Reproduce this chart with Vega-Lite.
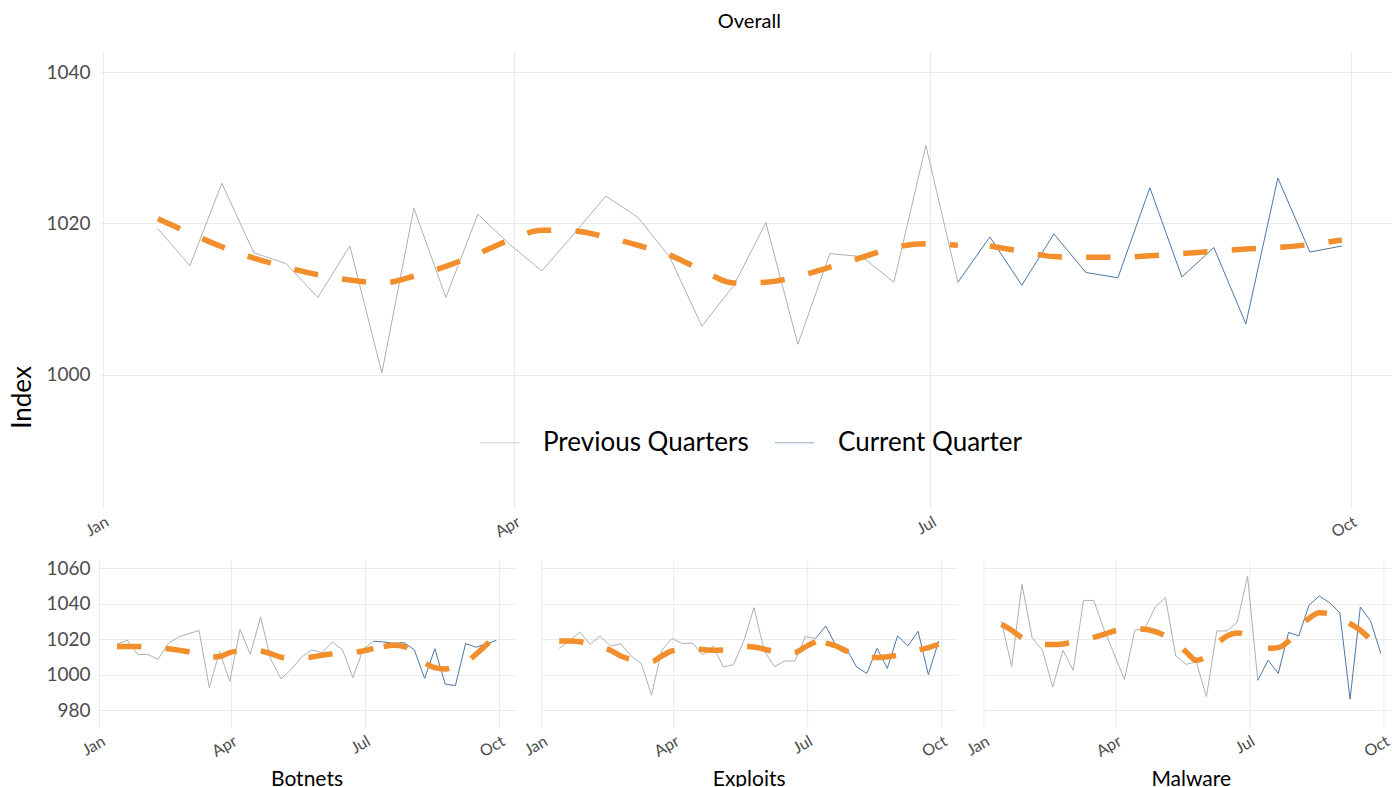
{
  "$schema": "https://vega.github.io/schema/vega-lite/v6.json",
  "padding": {"left": 9, "top": 12, "right": 0, "bottom": 0},
  "config": {
    "font": "Lato",
    "view": {"stroke": null},
    "axisX": {"grid": true, "gridColor": "#ebebeb", "domain": false, "ticks": false, "labelAngle": -30, "labelAlign": "right", "labelBaseline": "top", "labelPadding": 5, "labelFontSize": 16, "labelColor": "#4d4d4d", "labelFont": "Lato", "labelFlush": false, "labelOverlap": false, "labelExpr": "utcFormat(datum.value, '%b')"},
    "axisY": {"grid": true, "gridColor": "#ebebeb", "domain": false, "ticks": false, "labelFontSize": 19, "labelColor": "#4d4d4d", "labelFont": "Lato", "labelPadding": 9, "format": "d"},
    "title": {"font": "Lato", "fontWeight": "normal", "color": "#000000"}
  },
  "data": {"values": [
    {"p":"Overall","d":"2023-01-13","v":1019.3,"t":1020.6,"s":"Previous Quarters"},
    {"p":"Overall","d":"2023-01-20","v":1014.4,"t":1018.7,"s":"Previous Quarters"},
    {"p":"Overall","d":"2023-01-27","v":1025.3,"t":1016.9,"s":"Previous Quarters"},
    {"p":"Overall","d":"2023-02-03","v":1016.1,"t":1015.4,"s":"Previous Quarters"},
    {"p":"Overall","d":"2023-02-10","v":1014.7,"t":1014.2,"s":"Previous Quarters"},
    {"p":"Overall","d":"2023-02-17","v":1010.2,"t":1013.2,"s":"Previous Quarters"},
    {"p":"Overall","d":"2023-02-24","v":1017.0,"t":1012.5,"s":"Previous Quarters"},
    {"p":"Overall","d":"2023-03-03","v":1000.2,"t":1012.1,"s":"Previous Quarters"},
    {"p":"Overall","d":"2023-03-10","v":1022.0,"t":1013.0,"s":"Previous Quarters"},
    {"p":"Overall","d":"2023-03-17","v":1010.2,"t":1014.3,"s":"Previous Quarters"},
    {"p":"Overall","d":"2023-03-24","v":1021.2,"t":1016.0,"s":"Previous Quarters"},
    {"p":"Overall","d":"2023-03-31","v":1017.2,"t":1017.8,"s":"Previous Quarters"},
    {"p":"Overall","d":"2023-04-07","v":1013.7,"t":1019.1,"s":"Previous Quarters"},
    {"p":"Overall","d":"2023-04-14","v":1018.6,"t":1019.0,"s":"Previous Quarters"},
    {"p":"Overall","d":"2023-04-21","v":1023.6,"t":1018.2,"s":"Previous Quarters"},
    {"p":"Overall","d":"2023-04-28","v":1020.8,"t":1017.1,"s":"Previous Quarters"},
    {"p":"Overall","d":"2023-05-05","v":1015.5,"t":1015.8,"s":"Previous Quarters"},
    {"p":"Overall","d":"2023-05-12","v":1006.4,"t":1013.8,"s":"Previous Quarters"},
    {"p":"Overall","d":"2023-05-19","v":1011.8,"t":1012.1,"s":"Previous Quarters"},
    {"p":"Overall","d":"2023-05-26","v":1020.1,"t":1012.2,"s":"Previous Quarters"},
    {"p":"Overall","d":"2023-06-02","v":1004.0,"t":1013.0,"s":"Previous Quarters"},
    {"p":"Overall","d":"2023-06-09","v":1016.0,"t":1014.2,"s":"Previous Quarters"},
    {"p":"Overall","d":"2023-06-16","v":1015.6,"t":1015.5,"s":"Previous Quarters"},
    {"p":"Overall","d":"2023-06-23","v":1012.2,"t":1016.8,"s":"Previous Quarters"},
    {"p":"Overall","d":"2023-06-30","v":1030.3,"t":1017.3,"s":"Previous Quarters"},
    {"p":"Overall","d":"2023-07-07","v":1012.2,"t":1017.1,"s":"Previous Quarters"},
    {"p":"Overall","d":"2023-07-07","v":1012.2,"s":"Current Quarter"},
    {"p":"Overall","d":"2023-07-14","v":1018.2,"t":1017.0,"s":"Current Quarter"},
    {"p":"Overall","d":"2023-07-21","v":1011.8,"t":1016.3,"s":"Current Quarter"},
    {"p":"Overall","d":"2023-07-28","v":1018.6,"t":1015.6,"s":"Current Quarter"},
    {"p":"Overall","d":"2023-08-04","v":1013.5,"t":1015.5,"s":"Current Quarter"},
    {"p":"Overall","d":"2023-08-11","v":1012.8,"t":1015.5,"s":"Current Quarter"},
    {"p":"Overall","d":"2023-08-18","v":1024.7,"t":1015.7,"s":"Current Quarter"},
    {"p":"Overall","d":"2023-08-25","v":1012.9,"t":1016.0,"s":"Current Quarter"},
    {"p":"Overall","d":"2023-09-01","v":1016.8,"t":1016.3,"s":"Current Quarter"},
    {"p":"Overall","d":"2023-09-08","v":1006.7,"t":1016.6,"s":"Current Quarter"},
    {"p":"Overall","d":"2023-09-15","v":1026.0,"t":1016.8,"s":"Current Quarter"},
    {"p":"Overall","d":"2023-09-22","v":1016.2,"t":1017.2,"s":"Current Quarter"},
    {"p":"Overall","d":"2023-09-29","v":1017.0,"t":1017.8,"s":"Current Quarter"},

    {"p":"Botnets","d":"2023-01-13","v":1017.2,"t":1015.9,"s":"Previous Quarters"},
    {"p":"Botnets","d":"2023-01-20","v":1019.6,"t":1015.9,"s":"Previous Quarters"},
    {"p":"Botnets","d":"2023-01-27","v":1011.5,"t":1015.9,"s":"Previous Quarters"},
    {"p":"Botnets","d":"2023-02-03","v":1011.5,"t":1015.5,"s":"Previous Quarters"},
    {"p":"Botnets","d":"2023-02-10","v":1008.7,"t":1015.1,"s":"Previous Quarters"},
    {"p":"Botnets","d":"2023-02-17","v":1017.6,"t":1014.7,"s":"Previous Quarters"},
    {"p":"Botnets","d":"2023-02-24","v":1021.3,"t":1013.9,"s":"Previous Quarters"},
    {"p":"Botnets","d":"2023-03-03","v":1023.2,"t":1012.9,"s":"Previous Quarters"},
    {"p":"Botnets","d":"2023-03-10","v":1024.9,"t":1011.2,"s":"Previous Quarters"},
    {"p":"Botnets","d":"2023-03-17","v":992.8,"t":1010.0,"s":"Previous Quarters"},
    {"p":"Botnets","d":"2023-03-24","v":1013.1,"t":1010.3,"s":"Previous Quarters"},
    {"p":"Botnets","d":"2023-03-31","v":996.2,"t":1012.5,"s":"Previous Quarters"},
    {"p":"Botnets","d":"2023-04-07","v":1025.6,"t":1013.6,"s":"Previous Quarters"},
    {"p":"Botnets","d":"2023-04-14","v":1011.5,"t":1013.9,"s":"Previous Quarters"},
    {"p":"Botnets","d":"2023-04-21","v":1032.6,"t":1013.4,"s":"Previous Quarters"},
    {"p":"Botnets","d":"2023-04-28","v":1008.7,"t":1011.9,"s":"Previous Quarters"},
    {"p":"Botnets","d":"2023-05-05","v":997.7,"t":1009.9,"s":"Previous Quarters"},
    {"p":"Botnets","d":"2023-05-12","v":1003.1,"t":1009.3,"s":"Previous Quarters"},
    {"p":"Botnets","d":"2023-05-19","v":1010.0,"t":1009.5,"s":"Previous Quarters"},
    {"p":"Botnets","d":"2023-05-26","v":1014.0,"t":1010.0,"s":"Previous Quarters"},
    {"p":"Botnets","d":"2023-06-02","v":1012.5,"t":1011.0,"s":"Previous Quarters"},
    {"p":"Botnets","d":"2023-06-09","v":1018.5,"t":1011.7,"s":"Previous Quarters"},
    {"p":"Botnets","d":"2023-06-16","v":1014.0,"t":1012.1,"s":"Previous Quarters"},
    {"p":"Botnets","d":"2023-06-23","v":998.4,"t":1012.5,"s":"Previous Quarters"},
    {"p":"Botnets","d":"2023-06-30","v":1014.4,"t":1013.4,"s":"Previous Quarters"},
    {"p":"Botnets","d":"2023-07-07","v":1018.9,"t":1014.9,"s":"Previous Quarters"},
    {"p":"Botnets","d":"2023-07-07","v":1018.9,"s":"Current Quarter"},
    {"p":"Botnets","d":"2023-07-14","v":1018.5,"t":1015.9,"s":"Current Quarter"},
    {"p":"Botnets","d":"2023-07-21","v":1017.7,"t":1016.6,"s":"Current Quarter"},
    {"p":"Botnets","d":"2023-07-28","v":1018.1,"t":1015.9,"s":"Current Quarter"},
    {"p":"Botnets","d":"2023-08-04","v":1014.0,"t":1012.5,"s":"Current Quarter"},
    {"p":"Botnets","d":"2023-08-11","v":998.0,"t":1006.9,"s":"Current Quarter"},
    {"p":"Botnets","d":"2023-08-18","v":1014.7,"t":1004.0,"s":"Current Quarter"},
    {"p":"Botnets","d":"2023-08-25","v":994.8,"t":1003.3,"s":"Current Quarter"},
    {"p":"Botnets","d":"2023-09-01","v":993.9,"t":1004.6,"s":"Current Quarter"},
    {"p":"Botnets","d":"2023-09-08","v":1017.6,"t":1006.9,"s":"Current Quarter"},
    {"p":"Botnets","d":"2023-09-15","v":1015.5,"t":1011.5,"s":"Current Quarter"},
    {"p":"Botnets","d":"2023-09-22","v":1017.4,"t":1016.8,"s":"Current Quarter"},
    {"p":"Botnets","d":"2023-09-29","v":1019.4,"t":1022.4,"s":"Current Quarter"},

    {"p":"Exploits","d":"2023-01-13","v":1014.9,"t":1019.0,"s":"Previous Quarters"},
    {"p":"Exploits","d":"2023-01-20","v":1019.0,"t":1019.0,"s":"Previous Quarters"},
    {"p":"Exploits","d":"2023-01-27","v":1024.1,"t":1018.6,"s":"Previous Quarters"},
    {"p":"Exploits","d":"2023-02-03","v":1017.2,"t":1017.2,"s":"Previous Quarters"},
    {"p":"Exploits","d":"2023-02-10","v":1021.9,"t":1015.7,"s":"Previous Quarters"},
    {"p":"Exploits","d":"2023-02-17","v":1016.2,"t":1013.8,"s":"Previous Quarters"},
    {"p":"Exploits","d":"2023-02-24","v":1017.5,"t":1010.6,"s":"Previous Quarters"},
    {"p":"Exploits","d":"2023-03-03","v":1010.6,"t":1008.7,"s":"Previous Quarters"},
    {"p":"Exploits","d":"2023-03-10","v":1006.5,"t":1007.8,"s":"Previous Quarters"},
    {"p":"Exploits","d":"2023-03-17","v":988.6,"t":1007.4,"s":"Previous Quarters"},
    {"p":"Exploits","d":"2023-03-24","v":1013.8,"t":1010.6,"s":"Previous Quarters"},
    {"p":"Exploits","d":"2023-03-31","v":1020.5,"t":1013.4,"s":"Previous Quarters"},
    {"p":"Exploits","d":"2023-04-07","v":1017.5,"t":1014.2,"s":"Previous Quarters"},
    {"p":"Exploits","d":"2023-04-14","v":1017.9,"t":1014.4,"s":"Previous Quarters"},
    {"p":"Exploits","d":"2023-04-21","v":1011.2,"t":1014.2,"s":"Previous Quarters"},
    {"p":"Exploits","d":"2023-04-28","v":1016.2,"t":1013.8,"s":"Previous Quarters"},
    {"p":"Exploits","d":"2023-05-05","v":1004.4,"t":1014.0,"s":"Previous Quarters"},
    {"p":"Exploits","d":"2023-05-12","v":1005.7,"t":1014.9,"s":"Previous Quarters"},
    {"p":"Exploits","d":"2023-05-19","v":1019.0,"t":1016.0,"s":"Previous Quarters"},
    {"p":"Exploits","d":"2023-05-26","v":1037.8,"t":1015.7,"s":"Previous Quarters"},
    {"p":"Exploits","d":"2023-06-02","v":1013.4,"t":1014.4,"s":"Previous Quarters"},
    {"p":"Exploits","d":"2023-06-09","v":1004.6,"t":1013.0,"s":"Previous Quarters"},
    {"p":"Exploits","d":"2023-06-16","v":1007.8,"t":1011.9,"s":"Previous Quarters"},
    {"p":"Exploits","d":"2023-06-23","v":1007.8,"t":1012.5,"s":"Previous Quarters"},
    {"p":"Exploits","d":"2023-06-30","v":1021.5,"t":1015.7,"s":"Previous Quarters"},
    {"p":"Exploits","d":"2023-07-07","v":1020.5,"t":1018.6,"s":"Previous Quarters"},
    {"p":"Exploits","d":"2023-07-07","v":1020.5,"s":"Current Quarter"},
    {"p":"Exploits","d":"2023-07-14","v":1027.5,"t":1018.0,"s":"Current Quarter"},
    {"p":"Exploits","d":"2023-07-21","v":1016.2,"t":1016.2,"s":"Current Quarter"},
    {"p":"Exploits","d":"2023-07-28","v":1014.9,"t":1013.4,"s":"Current Quarter"},
    {"p":"Exploits","d":"2023-08-04","v":1004.4,"t":1011.2,"s":"Current Quarter"},
    {"p":"Exploits","d":"2023-08-11","v":1000.8,"t":1010.0,"s":"Current Quarter"},
    {"p":"Exploits","d":"2023-08-18","v":1014.9,"t":1009.7,"s":"Current Quarter"},
    {"p":"Exploits","d":"2023-08-25","v":1003.6,"t":1010.2,"s":"Current Quarter"},
    {"p":"Exploits","d":"2023-09-01","v":1021.9,"t":1011.0,"s":"Current Quarter"},
    {"p":"Exploits","d":"2023-09-08","v":1016.2,"t":1012.3,"s":"Current Quarter"},
    {"p":"Exploits","d":"2023-09-15","v":1024.5,"t":1013.8,"s":"Current Quarter"},
    {"p":"Exploits","d":"2023-09-22","v":1000.1,"t":1015.3,"s":"Current Quarter"},
    {"p":"Exploits","d":"2023-09-29","v":1019.0,"t":1017.2,"s":"Current Quarter"},

    {"p":"Malware","d":"2023-01-13","v":1030.3,"t":1028.4,"s":"Previous Quarters"},
    {"p":"Malware","d":"2023-01-20","v":1004.6,"t":1025.1,"s":"Previous Quarters"},
    {"p":"Malware","d":"2023-01-27","v":1051.0,"t":1020.9,"s":"Previous Quarters"},
    {"p":"Malware","d":"2023-02-03","v":1020.9,"t":1018.5,"s":"Previous Quarters"},
    {"p":"Malware","d":"2023-02-10","v":1013.8,"t":1017.2,"s":"Previous Quarters"},
    {"p":"Malware","d":"2023-02-17","v":993.1,"t":1017.0,"s":"Previous Quarters"},
    {"p":"Malware","d":"2023-02-24","v":1013.8,"t":1017.4,"s":"Previous Quarters"},
    {"p":"Malware","d":"2023-03-03","v":1002.5,"t":1018.5,"s":"Previous Quarters"},
    {"p":"Malware","d":"2023-03-10","v":1041.9,"t":1019.6,"s":"Previous Quarters"},
    {"p":"Malware","d":"2023-03-17","v":1041.9,"t":1021.1,"s":"Previous Quarters"},
    {"p":"Malware","d":"2023-03-24","v":1025.6,"t":1022.8,"s":"Previous Quarters"},
    {"p":"Malware","d":"2023-03-31","v":1011.5,"t":1024.7,"s":"Previous Quarters"},
    {"p":"Malware","d":"2023-04-07","v":997.4,"t":1025.4,"s":"Previous Quarters"},
    {"p":"Malware","d":"2023-04-14","v":1025.1,"t":1025.8,"s":"Previous Quarters"},
    {"p":"Malware","d":"2023-04-21","v":1026.2,"t":1025.6,"s":"Previous Quarters"},
    {"p":"Malware","d":"2023-04-28","v":1038.2,"t":1024.3,"s":"Previous Quarters"},
    {"p":"Malware","d":"2023-05-05","v":1043.5,"t":1021.9,"s":"Previous Quarters"},
    {"p":"Malware","d":"2023-05-12","v":1010.6,"t":1018.1,"s":"Previous Quarters"},
    {"p":"Malware","d":"2023-05-19","v":1005.9,"t":1013.0,"s":"Previous Quarters"},
    {"p":"Malware","d":"2023-05-26","v":1007.2,"t":1008.2,"s":"Previous Quarters"},
    {"p":"Malware","d":"2023-06-02","v":987.7,"t":1010.6,"s":"Previous Quarters"},
    {"p":"Malware","d":"2023-06-09","v":1024.7,"t":1017.2,"s":"Previous Quarters"},
    {"p":"Malware","d":"2023-06-16","v":1024.7,"t":1021.9,"s":"Previous Quarters"},
    {"p":"Malware","d":"2023-06-23","v":1029.7,"t":1023.5,"s":"Previous Quarters"},
    {"p":"Malware","d":"2023-06-30","v":1055.6,"t":1021.9,"s":"Previous Quarters"},
    {"p":"Malware","d":"2023-07-07","v":996.9,"t":1017.2,"s":"Previous Quarters"},
    {"p":"Malware","d":"2023-07-07","v":996.9,"s":"Current Quarter"},
    {"p":"Malware","d":"2023-07-14","v":1008.2,"t":1014.9,"s":"Current Quarter"},
    {"p":"Malware","d":"2023-07-21","v":1000.8,"t":1015.3,"s":"Current Quarter"},
    {"p":"Malware","d":"2023-07-28","v":1023.9,"t":1019.0,"s":"Current Quarter"},
    {"p":"Malware","d":"2023-08-04","v":1021.9,"t":1026.2,"s":"Current Quarter"},
    {"p":"Malware","d":"2023-08-11","v":1039.3,"t":1031.8,"s":"Current Quarter"},
    {"p":"Malware","d":"2023-08-18","v":1044.4,"t":1035.0,"s":"Current Quarter"},
    {"p":"Malware","d":"2023-08-25","v":1040.6,"t":1034.4,"s":"Current Quarter"},
    {"p":"Malware","d":"2023-09-01","v":1035.0,"t":1032.2,"s":"Current Quarter"},
    {"p":"Malware","d":"2023-09-08","v":986.2,"t":1028.8,"s":"Current Quarter"},
    {"p":"Malware","d":"2023-09-15","v":1038.2,"t":1025.1,"s":"Current Quarter"},
    {"p":"Malware","d":"2023-09-22","v":1030.3,"t":1020.0,"s":"Current Quarter"},
    {"p":"Malware","d":"2023-09-29","v":1011.9,"t":1014.9,"s":"Current Quarter"}
  ]},
  "bounds": "flush",
  "spacing": 52,
  "resolve": {"scale": {"x": "independent", "y": "independent", "color": "independent"}, "legend": {"color": "independent"}},
  "vconcat": [
    {
      "width": 1292.7,
      "height": 457.3,
      "title": {"text": "Overall", "fontSize": 20, "offset": 2.7, "baseline": "alphabetic", "dx": 4},
      "transform": [{"filter": "datum.p === 'Overall'"}],
      "layer": [
        {
          "mark": {"type": "line", "strokeWidth": 1},
          "encoding": {
            "x": {"field": "d", "type": "temporal", "scale": {"type": "utc", "domain": [{"year": 2022, "month": 12, "date": 31, "hours": 3, "utc": true}, {"year": 2023, "month": 10, "date": 9, "hours": 21, "minutes": 36, "utc": true}]}, "axis": {"title": null, "tickCount": {"interval": "month", "step": 3}}},
            "y": {"field": "v", "type": "quantitative", "scale": {"domain": [982.3, 1042.8], "nice": false, "zero": false}, "axis": {"title": "Index", "values": [1000, 1020, 1040], "titleFontSize": 26, "titleFontWeight": "normal", "titleColor": "#000000", "titleFont": "Lato", "titleX": -77, "titleY": 346, "titleAngle": -90, "titleAlign": "center", "titleBaseline": "middle"}},
            "color": {"field": "s", "type": "nominal", "scale": {"domain": ["Previous Quarters", "Current Quarter"], "range": ["#b0b0b0", "#4e77a5"]}, "legend": {"title": null, "orient": "none", "legendX": 380, "legendY": 371, "direction": "horizontal", "symbolType": "stroke", "symbolSize": 1521, "symbolStrokeWidth": 1.2, "symbolOpacity": 0.6, "labelFontSize": 26, "labelFont": "Lato", "labelColor": "#000000", "labelOffset": 23, "labelLimit": 0, "columnPadding": 23, "padding": 0}}
          }
        },
        {
          "mark": {"type": "line", "color": "#f28e2b", "strokeWidth": 5.5, "strokeDash": [24.3, 24.3], "strokeCap": "butt", "interpolate": "monotone"},
          "encoding": {
            "x": {"field": "d", "type": "temporal"},
            "y": {"field": "t", "type": "quantitative"}
          }
        }
      ]
    },
    {
      "bounds": "flush",
      "spacing": 26.2,
      "resolve": {"scale": {"x": "independent", "y": "independent", "color": "independent"}},
      "hconcat": [
        {
          "width": 416,
          "height": 166.7,
          "title": {"text": "Botnets", "orient": "bottom", "fontSize": 21, "offset": 9},
          "transform": [{"filter": "datum.p === 'Botnets'"}],
          "layer": [
            {
              "mark": {"type": "line", "strokeWidth": 1},
              "encoding": {
                "x": {"field": "d", "type": "temporal", "scale": {"type": "utc", "domain": [{"year": 2022, "month": 12, "date": 31, "hours": 16, "minutes": 48, "utc": true}, {"year": 2023, "month": 10, "date": 11, "hours": 16, "minutes": 48, "utc": true}]}, "axis": {"title": null, "tickCount": {"interval": "month", "step": 3}}},
                "y": {"field": "v", "type": "quantitative", "scale": {"domain": [970.2, 1064.1], "nice": false, "zero": false}, "axis": {"title": null, "values": [980, 1000, 1020, 1040, 1060]}},
                "color": {"field": "s", "type": "nominal", "scale": {"domain": ["Previous Quarters", "Current Quarter"], "range": ["#b0b0b0", "#4e77a5"]}, "legend": null}
              }
            },
            {
              "mark": {"type": "line", "color": "#f28e2b", "strokeWidth": 5.5, "strokeDash": [24.3, 24.3], "strokeCap": "butt", "interpolate": "monotone"},
              "encoding": {"x": {"field": "d", "type": "temporal"}, "y": {"field": "t", "type": "quantitative"}}
            }
          ]
        },
        {
          "width": 416,
          "height": 166.7,
          "title": {"text": "Exploits", "orient": "bottom", "fontSize": 21, "offset": 9},
          "transform": [{"filter": "datum.p === 'Exploits'"}],
          "layer": [
            {
              "mark": {"type": "line", "strokeWidth": 1},
              "encoding": {
                "x": {"field": "d", "type": "temporal", "scale": {"type": "utc", "domain": [{"year": 2022, "month": 12, "date": 31, "hours": 16, "minutes": 48, "utc": true}, {"year": 2023, "month": 10, "date": 11, "hours": 16, "minutes": 48, "utc": true}]}, "axis": {"title": null, "tickCount": {"interval": "month", "step": 3}}},
                "y": {"field": "v", "type": "quantitative", "scale": {"domain": [970.2, 1064.1], "nice": false, "zero": false}, "axis": {"title": null, "values": [980, 1000, 1020, 1040, 1060], "labels": false}},
                "color": {"field": "s", "type": "nominal", "scale": {"domain": ["Previous Quarters", "Current Quarter"], "range": ["#b0b0b0", "#4e77a5"]}, "legend": null}
              }
            },
            {
              "mark": {"type": "line", "color": "#f28e2b", "strokeWidth": 5.5, "strokeDash": [24.3, 24.3], "strokeCap": "butt", "interpolate": "monotone"},
              "encoding": {"x": {"field": "d", "type": "temporal"}, "y": {"field": "t", "type": "quantitative"}}
            }
          ]
        },
        {
          "width": 407.7,
          "height": 166.7,
          "title": {"text": "Malware", "orient": "bottom", "fontSize": 21, "offset": 9, "dx": 4},
          "transform": [{"filter": "datum.p === 'Malware'"}],
          "layer": [
            {
              "mark": {"type": "line", "strokeWidth": 1},
              "encoding": {
                "x": {"field": "d", "type": "temporal", "scale": {"type": "utc", "domain": [{"year": 2022, "month": 12, "date": 31, "hours": 16, "minutes": 48, "utc": true}, {"year": 2023, "month": 10, "date": 6, "utc": true}]}, "axis": {"title": null, "tickCount": {"interval": "month", "step": 3}}},
                "y": {"field": "v", "type": "quantitative", "scale": {"domain": [970.2, 1064.1], "nice": false, "zero": false}, "axis": {"title": null, "values": [980, 1000, 1020, 1040, 1060], "labels": false}},
                "color": {"field": "s", "type": "nominal", "scale": {"domain": ["Previous Quarters", "Current Quarter"], "range": ["#b0b0b0", "#4e77a5"]}, "legend": null}
              }
            },
            {
              "mark": {"type": "line", "color": "#f28e2b", "strokeWidth": 5.5, "strokeDash": [24.3, 24.3], "strokeCap": "butt", "interpolate": "monotone"},
              "encoding": {"x": {"field": "d", "type": "temporal"}, "y": {"field": "t", "type": "quantitative"}}
            }
          ]
        }
      ]
    }
  ]
}
